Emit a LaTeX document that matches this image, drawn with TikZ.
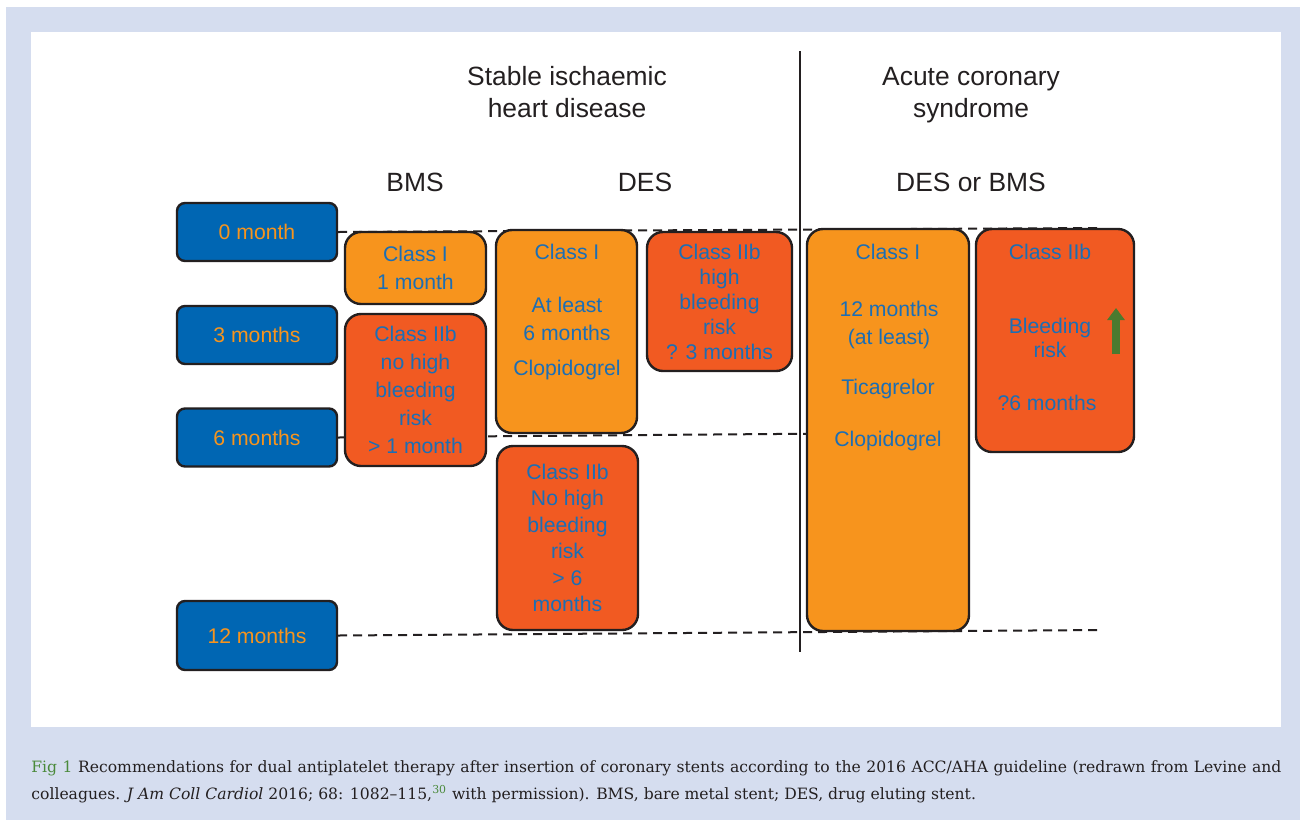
\documentclass[tikz,border=0pt]{standalone}
\usepackage{fontspec}
\setmainfont{Liberation Sans}
\newfontfamily\captionfont[Ligatures=TeX]{DejaVu Serif}
\usetikzlibrary{arrows.meta}

\definecolor{boxblue}{HTML}{0066B3}
\definecolor{classorange}{HTML}{F7941D}
\definecolor{classred}{HTML}{F15A22}
\definecolor{textblue}{HTML}{1B6EB5}
\definecolor{framegrey}{HTML}{D5DDEF}
\definecolor{edgedark}{HTML}{231F20}
\definecolor{figgreen}{HTML}{4B8A3B}
\definecolor{arrowgreen}{HTML}{4A7A2F}

\tikzset{
  monthbox/.style={draw=edgedark, line width=1.2pt, fill=boxblue, rounded corners=4pt,
    minimum width=80pt, minimum height=29pt, inner sep=0pt, text=classorange,
    font=\fontsize{10.6}{13}\selectfont},
  classbox/.style={draw=edgedark, line width=1.2pt, rounded corners=8pt, inner sep=0pt,
    text=textblue, align=center},
  classtext/.style={text=textblue, align=center, inner sep=0pt,
    font=\fontsize{10.6}{14}\selectfont},
  heading/.style={text=edgedark, align=center, inner sep=0pt,
    font=\fontsize{13.2}{16}\selectfont},
  guide/.style={dashed, dash pattern=on 4.5pt off 3pt, line width=1pt, draw=edgedark}
}

\begin{document}
\begin{tikzpicture}[x=0.5pt,y=-0.5pt]
\useasboundingbox (0,0) rectangle (1300,820);
% frame and white panel
\fill[white] (0,0) rectangle (1300,820);
\fill[framegrey] (6,7) rectangle (1300,820);
\fill[white] (31,32) rectangle (1281,727);

% time points
\node[monthbox] (zero) at (257,232) {0 month};
\node[monthbox] (three) at (257,335) {3 months};
\node[monthbox] (six) at (257,437.5) {6 months};
\node[monthbox, minimum height=34.5pt] (twelve) at (257,635.5) {12 months};

% dashed guides and divider
\coordinate (zeroend) at (1100,228);
\coordinate (sixend) at (900,433);
\coordinate (twelveend) at (1100,630);
\draw[guide] (zero.east) -- (zeroend);
\draw[guide] (six.east) -- (sixend);
\draw[guide] (twelve.east) -- (twelveend);
\coordinate (divtop) at (800,51);
\coordinate (divbot) at (800,652);
\draw[edgedark, line width=1pt] (divtop) -- (divbot);

% headings
\node[heading] (sihd) at (567,92) {Stable ischaemic\\heart disease};
\node[heading] (acs) at (971,95) {Acute coronary\\syndrome};
\node[heading] (bms) at (415,182) {BMS};
\node[heading] (des) at (645,182) {DES};
\node[heading] (desbms) at (971,182) {DES or BMS};

% stable disease, BMS
\node[classbox, fill=classorange, minimum width=70.5pt, minimum height=36pt,
  font=\fontsize{10.6}{14}\selectfont] (bmsone) at (415.5,268) {Class I\\1 month};
\node[classbox, fill=classred, minimum width=70.5pt, minimum height=76pt,
  font=\fontsize{10.6}{14}\selectfont] (bmstwo) at (415.5,390)
  {Class IIb\\no high\\bleeding\\risk\\> 1 month};

% stable disease, DES
\node[classbox, fill=classorange, minimum width=70.5pt, minimum height=101.5pt] (desone) at (566.5,331.5) {};
\node[classtext] (desonea) at (567,252) {Class I};
\node[classtext] (desoneb) at (567,319) {At least\\6 months};
\node[classtext] (desonec) at (567,370) {Clopidogrel};
\node[classbox, fill=classred, minimum width=72.5pt, minimum height=69.5pt,
  font=\fontsize{10.6}{12.5}\selectfont] (deshigh) at (719.5,301.5)
  {Class IIb\\high\\bleeding\\risk\\? 3 months};
\node[classbox, fill=classred, minimum width=70.5pt, minimum height=92pt,
  font=\fontsize{10.6}{13.2}\selectfont] (deslow) at (567.5,538)
  {Class IIb\\No high\\bleeding\\risk\\> 6\\months};

% acute coronary syndrome
\node[classbox, fill=classorange, minimum width=81pt, minimum height=201pt] (acsone) at (888,430) {};
\node[classtext] (acsonea) at (888,252) {Class I};
\node[classtext] (acsoneb) at (889,325) {12 months\\(at least)};
\node[classtext] (acsonec) at (888,389) {Ticagrelor};
\node[classtext] (acsoned) at (888,441) {Clopidogrel};
\node[classbox, fill=classred, minimum width=79pt, minimum height=111.5pt] (acstwo) at (1055,340.5) {};
\node[classtext] (acstwoa) at (1050,252) {Class IIb};
\node[classtext, font=\fontsize{10.6}{12}\selectfont] (acstwob) at (1050,338) {Bleeding\\risk};
\node[classtext] (acstwoc) at (1047,403) {?6 months};
\coordinate (risktail) at (1116,354);
\coordinate (risktip) at (1116,308);
\draw[arrowgreen, line width=4pt, -{Triangle[width=8.5pt,length=6pt]}] (risktail) -- (risktip);

% caption
\node[anchor=base west, text width=625pt, inner sep=0pt, align=justify, text=edgedark,
  font=\captionfont\fontsize{7.8}{13.5}\selectfont] (caption) at (31,772)
  {{\color{figgreen}Fig 1} Recommendations for dual antiplatelet therapy after insertion of coronary stents according to the 2016 ACC/AHA guideline (redrawn from Levine and\linebreak colleagues. \textit{J Am Coll Cardiol} 2016; 68: 1082–115,\textsuperscript{\color{figgreen}30} with permission). BMS, bare metal stent; DES, drug eluting stent.};
\end{tikzpicture}
\end{document}
